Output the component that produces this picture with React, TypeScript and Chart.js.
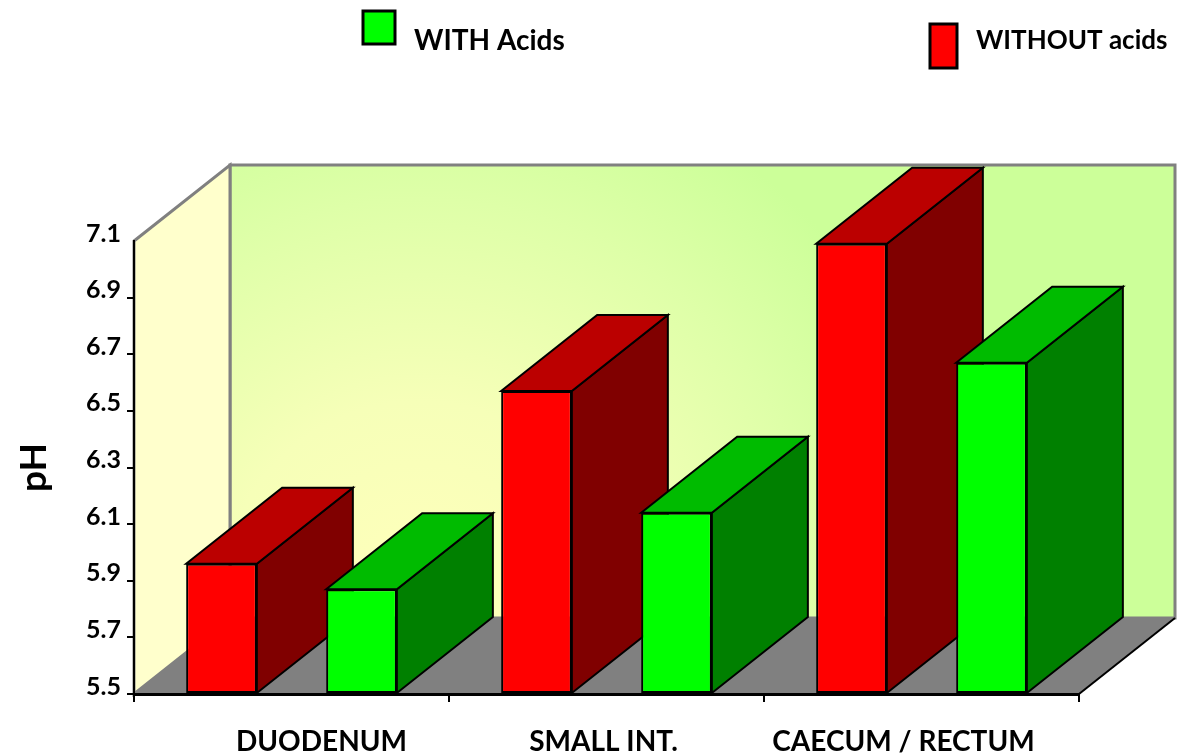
import React, { useEffect, useRef } from "react";
import { Chart, registerables } from "chart.js";

Chart.register(...registerables);

const categories = ["DUODENUM", "SMALL INT.", "CAECUM / RECTUM"];
const withoutAcids = [5.96, 6.57, 7.09];
const withAcids = [5.87, 6.14, 6.67];
const labelShift = [30, -3, -18];
const FONT = "Lato, 'Open Sans', sans-serif";
const DX = 96;
const DY = -76;

const poly = (ctx: CanvasRenderingContext2D, pts: number[][], fill: string | CanvasGradient | null, stroke: string | null, lw = 2) => {
  ctx.beginPath();
  pts.forEach((p, i) => (i ? ctx.lineTo(p[0], p[1]) : ctx.moveTo(p[0], p[1])));
  ctx.closePath();
  if (fill) {
    ctx.fillStyle = fill;
    ctx.fill();
  }
  if (stroke) {
    ctx.strokeStyle = stroke;
    ctx.lineWidth = lw;
    ctx.lineJoin = "miter";
    ctx.stroke();
  }
};

const box3d = {
  id: "box3d",
  beforeDraw(chart: any) {
    const { ctx, chartArea: a } = chart;
    ctx.save();
    const grad = ctx.createRadialGradient(420, 600, 10, 420, 600, 640);
    grad.addColorStop(0, "#FFFFBB");
    grad.addColorStop(0.3, "#F6FFB8");
    grad.addColorStop(0.62, "#DEFFA8");
    grad.addColorStop(0.85, "#CCFF99");
    grad.addColorStop(1, "#CCFF99");
    // back wall
    poly(ctx, [[a.left + DX, a.top + DY], [a.right + DX, a.top + DY], [a.right + DX, a.bottom + DY], [a.left + DX, a.bottom + DY]], grad, "#808080", 3);
    // side wall
    poly(ctx, [[a.left, a.top], [a.left + DX, a.top + DY], [a.left + DX, a.bottom + DY], [a.left, a.bottom]], "#FFFFCC", "#808080", 3);
    // floor
    poly(ctx, [[a.left, a.bottom], [a.right, a.bottom], [a.right + DX, a.bottom + DY], [a.left + DX, a.bottom + DY]], "#808080", "#808080", 1);
    ctx.beginPath();
    ctx.moveTo(a.right, a.bottom);
    ctx.lineTo(a.right + DX, a.bottom + DY);
    ctx.strokeStyle = "#000000";
    ctx.lineWidth = 2;
    ctx.stroke();
    ctx.restore();
  },
  beforeDatasetsDraw(chart: any) {
    const { ctx } = chart;
    ctx.save();
    const shades = [
      { top: "#BB0000", side: "#800000" },
      { top: "#00BB00", side: "#008000" },
    ];
    const items: any[] = [];
    chart.data.datasets.forEach((_: any, d: number) => {
      chart.getDatasetMeta(d).data.forEach((el: any) => items.push({ el, shade: shades[d] }));
    });
    items.sort((p, q) => p.el.x - q.el.x);
    items.forEach(({ el, shade }) => {
      const l = el.x - el.width / 2;
      const r = el.x + el.width / 2;
      poly(ctx, [[r, el.y], [r + DX, el.y + DY], [r + DX, el.base + DY], [r, el.base]], shade.side, "#000000");
      poly(ctx, [[l, el.y], [l + DX, el.y + DY], [r + DX, el.y + DY], [r, el.y]], shade.top, "#000000");
    });
    ctx.restore();
  },
  afterDraw(chart: any) {
    const { ctx } = chart;
    ctx.save();
    const x = chart.scales.x;
    ctx.fillStyle = "#000000";
    ctx.textBaseline = "middle";
    ctx.textAlign = "center";
    ctx.font = `bold 28px ${FONT}`;
    categories.forEach((c, i) => ctx.fillText(c, x.getPixelForTick(i) + labelShift[i], 742));
    // legend
    const ds = chart.data.datasets;
    const entries = [
      { ds: ds[1], box: [363, 11, 32, 33], tx: 414, ty: 41, size: 28 },
      { ds: ds[0], box: [930, 24, 27, 44], tx: 976, ty: 41, size: 26 },
    ];
    ctx.textAlign = "left";
    entries.forEach((e) => {
      ctx.fillStyle = e.ds.backgroundColor;
      ctx.strokeStyle = "#000000";
      ctx.lineWidth = 3;
      ctx.fillRect(e.box[0], e.box[1], e.box[2], e.box[3]);
      ctx.strokeRect(e.box[0], e.box[1], e.box[2], e.box[3]);
      ctx.fillStyle = "#000000";
      ctx.font = `bold ${e.size}px ${FONT}`;
      ctx.fillText(e.ds.label, e.tx, e.ty);
    });
    ctx.restore();
  },
};

export default function App() {
  const ref = useRef<HTMLCanvasElement>(null);
  useEffect(() => {
    const chart = new Chart(ref.current as HTMLCanvasElement, {
      type: "bar",
      data: {
        labels: categories,
        datasets: [
          { label: "WITHOUT acids", data: withoutAcids, base: 5.5, backgroundColor: "#FF0000", borderColor: "#000000", borderWidth: 2, borderSkipped: false },
          { label: "WITH Acids", data: withAcids, base: 5.5, backgroundColor: "#00FF00", borderColor: "#000000", borderWidth: 2, borderSkipped: false },
        ],
      },
      options: {
        animation: false,
        responsive: false,
        categoryPercentage: 0.889,
        barPercentage: 0.505,
        layout: { padding: { left: 0, right: 110, top: 241, bottom: 0 } },
        plugins: { legend: { display: false }, title: { display: false }, tooltip: { enabled: false } },
        scales: {
          x: {
            type: "category",
            afterFit: (s: any) => {
              s.height = 60;
            },
            border: { display: true, color: "#000000", width: 3 },
            grid: { display: true, drawOnChartArea: false, drawTicks: true, tickLength: 8, color: "#000000", lineWidth: 2, offset: true },
            ticks: { display: false },
          },
          y: {
            type: "linear",
            min: 5.5,
            max: 7.1,
            afterFit: (s: any) => {
              s.width = 134;
            },
            afterBuildTicks: (s: any) => {
              s.ticks = [5.5, 5.7, 5.9, 6.1, 6.3, 6.5, 6.7, 6.9, 7.1].map((value) => ({ value }));
            },
            border: { display: true, color: "#000000", width: 2 },
            grid: {
              display: true,
              drawOnChartArea: false,
              drawTicks: true,
              tickLength: 7,
              lineWidth: 2,
              color: "#000000",
              tickColor: (c: any) => (c.tick && c.tick.value > 7.05 ? "rgba(0,0,0,0)" : "#000000"),
            },
            ticks: {
              color: "#000000",
              font: { family: FONT, weight: "bold", size: 25 },
              padding: 6,
              labelOffset: -7.5,
              callback: (v: any) => Number(v).toFixed(1),
            },
            title: { display: true, text: "pH", color: "#000000", font: { family: FONT, weight: "bold", size: 37 }, padding: { top: 12, bottom: 0 } },
          },
        },
      } as any,
      plugins: [box3d],
    });
    return () => chart.destroy();
  }, []);
  return (
    <div style={{ position: "absolute", left: 0, top: 0, width: 1189, height: 754, overflow: "hidden", background: "#FFFFFF" }}>
      <canvas ref={ref} width={1189} height={754} style={{ display: "block" }} />
    </div>
  );
}
